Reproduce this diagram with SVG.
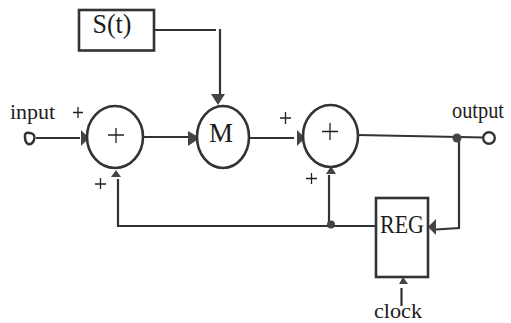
<svg xmlns="http://www.w3.org/2000/svg" width="511" height="323" viewBox="0 0 511 323">
<style>
.t{font-family:"Liberation Serif","Times New Roman",serif;fill:#1c1c1c}
.s{fill:none;stroke:#333;stroke-width:2.200}
.n{fill:#fff;stroke:#333;stroke-width:2.600}
.a{fill:#444;stroke:none}
.p{stroke:#222;stroke-width:1.300;fill:none}
</style>
<rect width="511" height="323" fill="#fff"/>
<g id="connectors">
<path class="s" d="M36 138H80"/>
<path class="s" d="M143 137H190"/>
<path class="s" d="M154 30H216"/>
<path class="s" d="M220 29V96"/>
<path class="s" d="M249 138H294"/>
<path class="s" d="M358 135L484 137.500"/>
<path class="s" d="M118 179V226H376"/>
<path class="s" d="M329 175V225"/>
<path class="s" d="M459 138V228L436 229.500"/>
<path class="s" d="M401.500 288V306"/>
<polygon class="a" points="81,130 89,138 81,146"/>
<polygon class="a" points="188,131 200,138 188,146"/>
<polygon class="a" points="211,94 225,94 218,105"/>
<polygon class="a" points="297,130 305,138 297,146"/>
<polygon class="a" points="111,177 121,177 116,170"/>
<polygon class="a" points="326,174 336,174 331,166"/>
<polygon class="a" points="436,219 436,235 428,227"/>
<polygon class="a" points="399,284 408,284 403,277"/>
<circle class="a" cx="457" cy="138" r="4.500"/>
<circle class="a" cx="331" cy="224.500" r="4"/>
</g>
<g id="s-t"><rect class="n" x="79" y="10" width="75" height="40.500"/><text class="t" x="92.500" y="33" font-size="27" textLength="39" lengthAdjust="spacingAndGlyphs">S(t)</text></g>
<g id="input"><path d="M25 137Q24 132 30 133Q36 134 34 140Q32 145 28 144Q25 142 25 137Z" fill="#fff" stroke="#333" stroke-width="2.500"/><text class="t" x="10" y="119" font-size="22">input</text></g>
<g id="plus-1"><ellipse class="n" cx="115" cy="137" rx="28" ry="31"/><path class="p" d="M108 135H124M116 128V143"/></g>
<g id="plus-1-in"><path class="p" d="M73 112.500H83M78 107V118"/></g>
<g id="plus-1-fb"><path class="p" d="M95 184H106M100.500 178V189"/></g>
<g id="m"><ellipse class="n" cx="223" cy="137" rx="26" ry="31"/><text class="t" x="221" y="142" font-size="27" text-anchor="middle">M</text></g>
<g id="plus-2"><ellipse class="n" cx="330.500" cy="136" rx="27.500" ry="31"/><path class="p" d="M322 131.500H338M330 123V140"/></g>
<g id="plus-2-in"><path class="p" d="M280 118H291M285.500 112V124"/></g>
<g id="plus-2-fb"><path class="p" d="M306 178.500H317M311.500 173V184"/></g>
<g id="reg"><rect class="n" x="376" y="198" width="52" height="79"/><text class="t" x="380" y="233" font-size="25" textLength="44" lengthAdjust="spacingAndGlyphs">REG</text></g>
<g id="output"><circle cx="489" cy="138" r="5.800" fill="#fff" stroke="#333" stroke-width="2.400"/><text class="t" x="452" y="118" font-size="23" textLength="52" lengthAdjust="spacingAndGlyphs">output</text></g>
<g id="clock"><text class="t" x="374" y="318" font-size="21" textLength="48" lengthAdjust="spacingAndGlyphs">clock</text></g>
</svg>
